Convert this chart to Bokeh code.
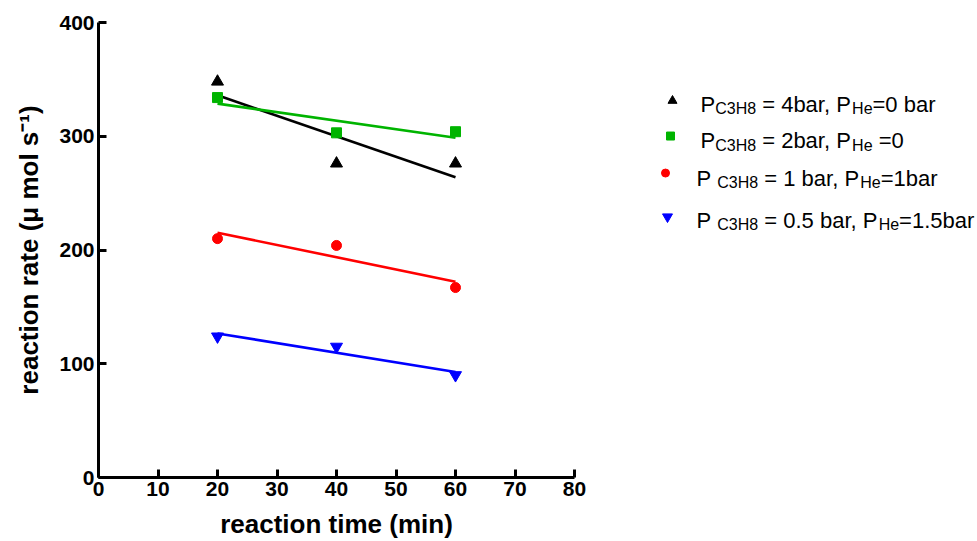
import numpy as np
from bokeh.plotting import figure
from bokeh.layouts import row
from bokeh.models import Range1d, FixedTicker
from bokeh.core.properties import value
from bokeh.embed import file_html
from bokeh.resources import INLINE

# ---- data ----
time_min = [20, 40, 60]
rate_4bar = [348, 276, 276]
rate_2bar = [334, 303, 304]
rate_1bar = [210, 204, 167]
rate_05bar = [124, 115, 90]

x_ticks = [0, 10, 20, 30, 40, 50, 60, 70, 80]
y_ticks = [0, 100, 200, 300, 400]

series = [rate_4bar, rate_2bar, rate_1bar, rate_05bar]
colors = ["#000000", "#00b400", "#ff0000", "#0000ff"]
markers = ["triangle", "square", "circle", "inverted_triangle"]
marker_sizes = [12, 10, 10, 12]

x_title = "reaction time (min)"
y_title = "reaction rate (\u03bc mol s\u207b\u00b9)"

# legend texts: (piece, is_subscript)
legend_rows = [
    [("P", 0), ("C3H8", 1), (" = 4bar, P", 0), ("He", 1), ("=0 bar", 0)],
    [("P", 0), ("C3H8", 1), (" = 2bar, P", 0), ("He", 1), (" =0", 0)],
    [("P ", 0), ("C3H8", 1), (" = 1 bar, P", 0), ("He", 1), ("=1bar", 0)],
    [("P ", 0), ("C3H8", 1), (" = 0.5 bar, P", 0), ("He", 1), ("=1.5bar", 0)],
]

FONT = "Liberation Sans"
PAGE_H = 541

# Arial / Liberation Sans advance widths (em)
W = {' ': .278, '=': .584, ',': .278, '.': .278, 'a': .556, 'b': .556, 'r': .333,
     'P': .667, 'C': .722, 'H': .722, 'e': .556, '-': .333}
for d in "0123456789":
    W[d] = .556


def width(txt, table, fs):
    return sum(table.get(ch, .556) for ch in txt) * fs


# ---- main plot ----
L, T, FW, FH = 98, 22, 476, 456
MW = 600
p = figure(width=MW, height=PAGE_H, x_range=Range1d(0, 80), y_range=Range1d(0, 400),
           output_backend="svg", toolbar_location=None,
           min_border_left=L, min_border_right=MW - L - FW, min_border_top=T,
           min_border_bottom=PAGE_H - T - FH)
p.outline_line_color = None
p.grid.visible = False

p.xaxis.ticker = FixedTicker(ticks=x_ticks)
p.yaxis.ticker = FixedTicker(ticks=y_ticks)
for ax in (p.xaxis[0], p.yaxis[0]):
    ax.axis_line_width = 3
    ax.axis_line_color = "black"
    ax.major_tick_line_width = 3
    ax.major_tick_line_color = "black"
    ax.major_tick_in = 8
    ax.major_tick_out = 0
    ax.minor_tick_line_color = None
    ax.major_label_text_font = FONT
    ax.major_label_text_font_style = "bold"
    ax.major_label_text_font_size = "21px"
    ax.major_label_text_color = "black"
    ax.major_label_standoff = 4
    ax.axis_label_text_font = FONT
    ax.axis_label_text_font_style = "bold"
    ax.axis_label_text_color = "black"
    ax.axis_label_text_font_size = "26px"

p.xaxis.axis_label = x_title
p.xaxis.axis_label_standoff = 10
p.yaxis.axis_label = y_title
p.yaxis.axis_label_standoff = 12

t = np.array(time_min, dtype=float)
t_fit = np.array([t.min(), t.max()])
for ys, c, m, s in zip(series, colors, markers, marker_sizes):
    k, b = np.polyfit(t, np.array(ys, dtype=float), 1)
    p.line(t_fit, k * t_fit + b, line_color=c, line_width=2.6)
    p.scatter(time_min, ys, marker=m, size=s, fill_color=c, line_color=c)

# ---- legend panel (right) ----
X0, LW = MW, 377
lg = figure(width=LW, height=PAGE_H, x_range=Range1d(0, LW), y_range=Range1d(0, PAGE_H),
            output_backend="svg", toolbar_location=None, min_border=0,
            x_axis_type=None, y_axis_type=None)
lg.outline_line_color = None
lg.grid.visible = False

mk_x = [672, 670, 665, 667]
mk_y = [93, 135, 179, 231]
mk_size = [9, 8, 8, 10]
lg.scatter([x - X0 for x in mk_x], [PAGE_H - y for y in mk_y], marker=markers,
           size=mk_size, fill_color=colors, line_color=colors)

MAIN, SUB = 22, 16
row_x = [700, 700, 696, 696]
row_base = [97, 140, 186, 236]
sub_off = [5, 6, 4, 4]
mx, my, mt, sx, sy, st = [], [], [], [], [], []
for pieces, x0, yb, so in zip(legend_rows, row_x, row_base, sub_off):
    x = x0
    for txt, sub in pieces:
        fs = SUB if sub else MAIN
        lead = len(txt) - len(txt.lstrip(" "))
        shown = txt.strip(" ")
        xs = x + lead * W[' '] * fs
        if sub:
            sx.append(xs - X0); sy.append(PAGE_H - (yb + so)); st.append(shown)
        else:
            mx.append(xs - X0); my.append(PAGE_H - yb); mt.append(shown)
        x += width(txt, W, fs)

lg.text(mx, my, text=mt, text_font=value(FONT), text_font_size=f"{MAIN}px",
        text_baseline="alphabetic", text_align="left", text_color="black")
lg.text(sx, sy, text=st, text_font=value(FONT), text_font_size=f"{SUB}px",
        text_baseline="alphabetic", text_align="left", text_color="black")

layout = row(p, lg)
open("out.html", "w").write(file_html(layout, INLINE))
